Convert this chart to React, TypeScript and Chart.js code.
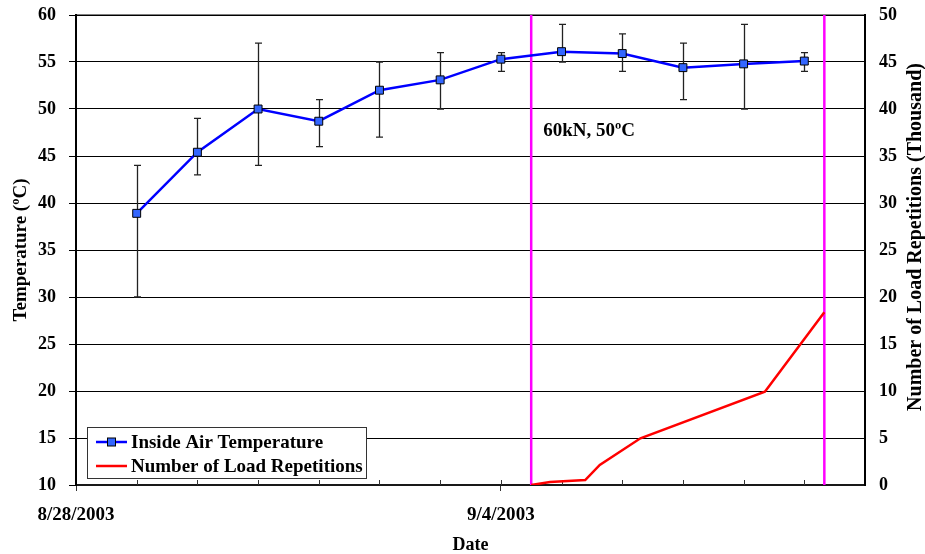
import { useEffect, useRef } from 'react';
import { Chart, registerables } from 'chart.js';

Chart.register(...registerables);

// Day offsets from 8/28/2003 and the dates labelled on the axis
const dayTicks = [0, 7];
const dayTickLabels = ['8/28/2003', '9/4/2003'];

// Daily inside air temperature (mean, with daily max/min range)
const tempDays = [1, 2, 3, 4, 5, 6, 7, 8, 9, 10, 11, 12];
const tempMean = [38.9, 45.4, 50.0, 48.7, 52.0, 53.1, 55.3, 56.1, 55.9, 54.4, 54.8, 55.1];
const tempMax = [44, 49, 57, 51, 55, 56, 56, 59, 58, 57, 59, 56];
const tempMin = [30, 43, 44, 46, 47, 50, 54, 55, 54, 51, 50, 54];

// Cumulative load repetitions (thousand)
const loadDays = [7.5, 7.81, 8.39, 8.63, 9.3, 11.35, 11.4, 12.33];
const loadReps = [0, 0.32, 0.53, 2.13, 4.97, 9.93, 10.35, 18.37];

// Start and end of the loading period
const loadPeriod = [7.5, 12.33];
const loadNote = '60kN, 50ºC';
const loadNoteTemp = 47.7;

const rightTitle = 'Number of Load Repetitions (Thousand)';

const FONT = "'Liberation Serif', 'Times New Roman', serif";

const fitVertical = (width: number) => (s: any) => {
  s.width = width;
  s.paddingTop = 15;
  s.paddingBottom = 0;
};

const frameAndMarkers = {
  id: 'frameAndMarkers',
  beforeDatasetsDraw(chart: any) {
    const { ctx, chartArea, scales } = chart;
    const x = scales.x;
    const y = scales.y;
    ctx.save();
    // plot frame
    ctx.strokeStyle = '#000';
    ctx.lineWidth = 1;
    ctx.strokeRect(chartArea.left, chartArea.top, chartArea.right - chartArea.left, chartArea.bottom - chartArea.top);

    // inner daily tick marks on the date axis
    ctx.strokeStyle = '#333';
    ctx.lineWidth = 1;
    for (let d = 1; d < 13; d++) {
      const px = Math.round(x.getPixelForValue(d)) + 0.5;
      ctx.beginPath();
      ctx.moveTo(px, chartArea.bottom);
      ctx.lineTo(px, chartArea.bottom - 5);
      ctx.stroke();
    }

    // loading period boundaries
    ctx.strokeStyle = '#ff00ff';
    ctx.lineWidth = 2.5;
    loadPeriod.forEach((d) => {
      const px = x.getPixelForValue(d);
      ctx.beginPath();
      ctx.moveTo(px, chartArea.top);
      ctx.lineTo(px, chartArea.bottom);
      ctx.stroke();
    });

    // temperature range bars
    ctx.strokeStyle = '#222';
    ctx.lineWidth = 1.3;
    tempDays.forEach((d, i) => {
      const px = Math.round(x.getPixelForValue(d)) + 0.5;
      const yt = y.getPixelForValue(tempMax[i]);
      const yb = y.getPixelForValue(tempMin[i]);
      ctx.beginPath();
      ctx.moveTo(px, yt);
      ctx.lineTo(px, yb);
      ctx.moveTo(px - 3.5, yt);
      ctx.lineTo(px + 3.5, yt);
      ctx.moveTo(px - 3.5, yb);
      ctx.lineTo(px + 3.5, yb);
      ctx.stroke();
    });
    ctx.restore();
  },
  afterDatasetsDraw(chart: any) {
    const { ctx, scales, chartArea } = chart;
    ctx.save();
    ctx.font = `bold 19px ${FONT}`;
    ctx.fillStyle = '#000';
    ctx.textAlign = 'left';
    ctx.textBaseline = 'middle';
    ctx.fillText(loadNote, scales.x.getPixelForValue(loadPeriod[0]) + 12, scales.y.getPixelForValue(loadNoteTemp));

    // right axis title, reading bottom to top
    ctx.font = `bold 20px ${FONT}`;
    ctx.textAlign = 'center';
    ctx.translate(chart.width - 9, (chartArea.top + chartArea.bottom) / 2 - 13);
    ctx.rotate(-Math.PI / 2);
    ctx.fillText(rightTitle, 0, 0);
    ctx.restore();
  },
  afterDraw(chart: any) {
    const { ctx } = chart;
    const box = { left: 87, top: 427, width: 279, height: 51 };
    ctx.save();
    ctx.fillStyle = '#fff';
    ctx.fillRect(box.left, box.top, box.width, box.height);
    ctx.strokeStyle = '#333';
    ctx.lineWidth = 1;
    ctx.strokeRect(box.left + 0.5, box.top + 0.5, box.width, box.height);
    ctx.font = `bold 19px ${FONT}`;
    ctx.textAlign = 'left';
    ctx.textBaseline = 'middle';
    chart.data.datasets.forEach((ds: any, i: number) => {
      const cy = box.top + 15 + i * 24;
      ctx.strokeStyle = ds.borderColor;
      ctx.lineWidth = 2.5;
      ctx.beginPath();
      ctx.moveTo(box.left + 9, cy);
      ctx.lineTo(box.left + 40, cy);
      ctx.stroke();
      if (ds.pointRadius > 0) {
        ctx.fillStyle = ds.pointBackgroundColor;
        ctx.strokeStyle = '#000';
        ctx.lineWidth = 1;
        ctx.fillRect(box.left + 20.5, cy - 4, 8, 8);
        ctx.strokeRect(box.left + 20.5, cy - 4, 8, 8);
      }
      ctx.fillStyle = '#000';
      ctx.fillText(ds.label, box.left + 44, cy + 1);
    });
    ctx.restore();
  },
};

export default function App() {
  const canvasRef = useRef<HTMLCanvasElement | null>(null);

  useEffect(() => {
    if (!canvasRef.current) return;
    Chart.defaults.font.family = FONT;
    Chart.defaults.color = '#000';

    const chart = new Chart(canvasRef.current, {
      type: 'line',
      data: {
        datasets: [
          {
            label: 'Inside Air Temperature',
            data: tempDays.map((d, i) => ({ x: d, y: tempMean[i] })),
            yAxisID: 'y',
            borderColor: '#0000ff',
            borderWidth: 2.5,
            pointStyle: 'rect',
            pointRadius: 5.6,
            pointBackgroundColor: '#3366ff',
            pointBorderColor: '#000',
            pointBorderWidth: 1,
            tension: 0,
          },
          {
            label: 'Number of Load Repetitions',
            data: loadDays.map((d, i) => ({ x: d, y: loadReps[i] })),
            yAxisID: 'y1',
            borderColor: '#ff0000',
            borderWidth: 2.5,
            pointRadius: 0,
            tension: 0,
          },
        ],
      },
      options: {
        responsive: false,
        animation: false,
        devicePixelRatio: 1,
        layout: { padding: { top: 15, left: 0, right: 0, bottom: 0 } },
        plugins: { legend: { display: false }, tooltip: { enabled: false } },
        scales: {
          x: {
            type: 'linear',
            min: 0,
            max: 13,
            afterFit: (s: any) => { s.height = 69; },
            afterBuildTicks: (s: any) => { s.ticks = dayTicks.map((v) => ({ value: v })); },
            ticks: {
              autoSkip: false,
              maxRotation: 0,
              padding: 13,
              font: { size: 19, weight: 'bold' },
              callback: (v: any) => {
                const i = dayTicks.indexOf(Number(v));
                return i >= 0 ? dayTickLabels[i] : '';
              },
            },
            grid: { drawOnChartArea: false, drawTicks: true, tickLength: 6, color: '#333', lineWidth: 1 },
            border: { display: true, color: '#333', width: 2 },
            title: { display: true, text: 'Date', font: { size: 18, weight: 'bold', lineHeight: 1 }, padding: { top: 0, bottom: 0 } },
          },
          y: {
            position: 'left',
            min: 10,
            max: 60,
            afterFit: fitVertical(76),
            ticks: { stepSize: 5, padding: 13, font: { size: 18, weight: 'bold' } },
            grid: { color: '#000', lineWidth: 1, drawTicks: true, tickLength: 7, tickColor: '#000' },
            border: { display: true, color: '#000', width: 2 },
            title: { display: true, text: 'Temperature (ºC)', font: { size: 19, weight: 'bold' }, padding: { top: 10, bottom: 0 } },
          },
          y1: {
            position: 'right',
            min: 0,
            max: 50,
            afterFit: fitVertical(60),
            ticks: { stepSize: 5, padding: 14, font: { size: 18, weight: 'bold' } },
            grid: { drawOnChartArea: false, drawTicks: false },
            border: { display: true, color: '#000', width: 2 },
          },
        },
      },
      plugins: [frameAndMarkers],
    } as any);

    return () => chart.destroy();
  }, []);

  return (
    <div style={{ position: 'fixed', left: 0, top: 0, width: 925, height: 554, background: '#fff' }}>
      <canvas ref={canvasRef} width={925} height={554} />
    </div>
  );
}
